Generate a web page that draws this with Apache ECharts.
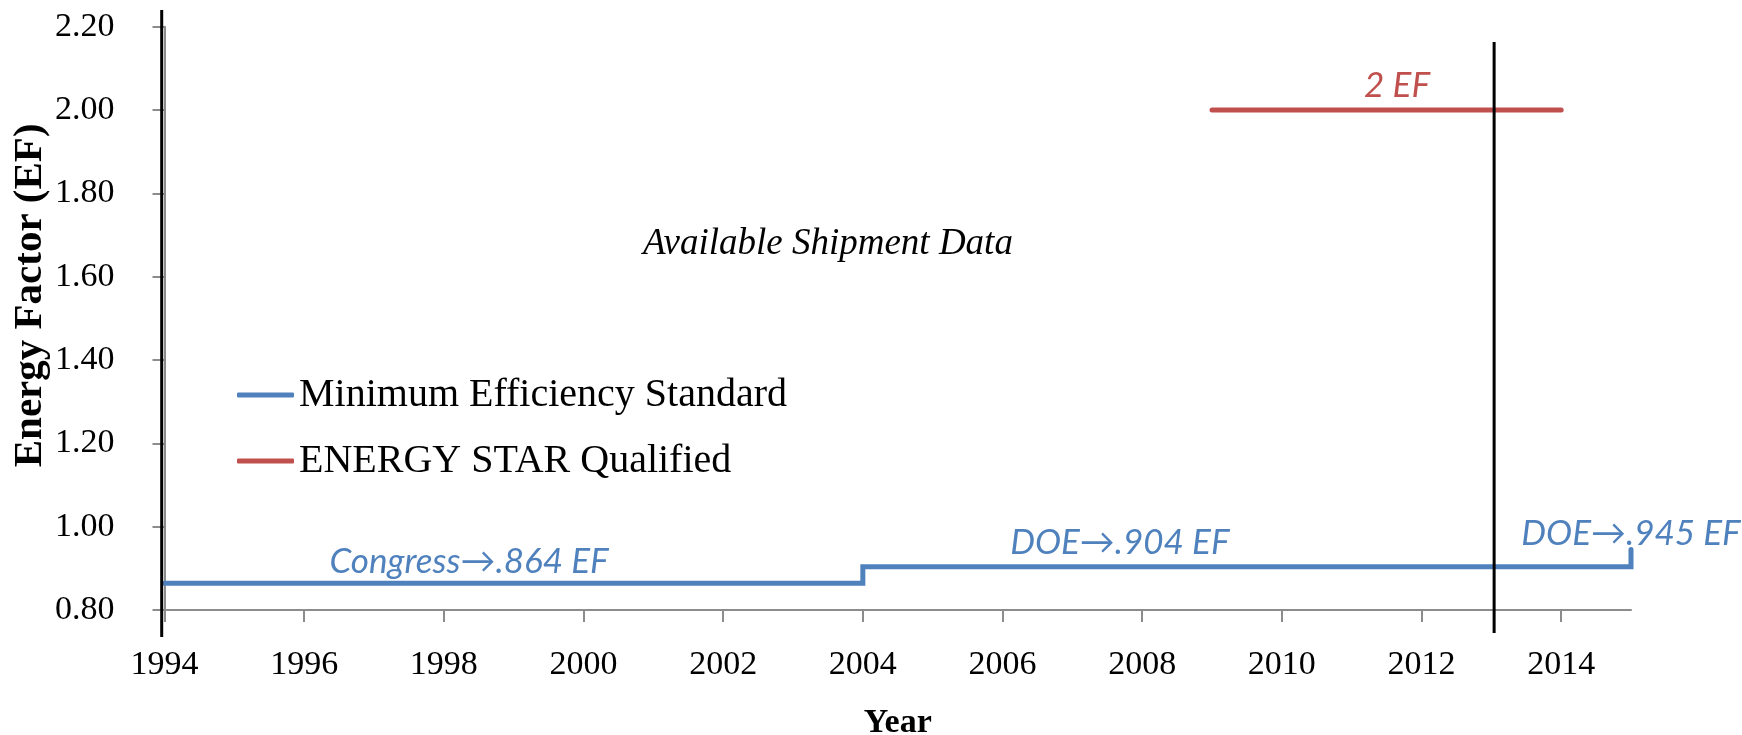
<!DOCTYPE html>
<html>
<head>
<meta charset="utf-8">
<script src="https://cdn.jsdelivr.net/npm/echarts@6/dist/echarts.min.js"></script>
<style>
html,body{margin:0;padding:0;background:#fff;}
#chart{width:1742px;height:735px;}
</style>
</head>
<body>
<div id="chart"></div>
<script>
// ---- data ----
const xTickYears = [1994, 1996, 1998, 2000, 2002, 2004, 2006, 2008, 2010, 2012, 2014];
const yTickValues = [0.8, 1.0, 1.2, 1.4, 1.6, 1.8, 2.0, 2.2];

const minStdYears = [1994, 2004, 2015];
const minStdValues = [0.864, 0.904, 0.945];

const starYears = [2009, 2014];
const starValues = [2.0, 2.0];

// shipment-data window boundaries: [year, top value, bottom value]
const shipmentBounds = [
  [1993.96, 2.24, 0.735],
  [2013.04, 2.163, 0.745]
];

// annotations: text, year, value
const annoTexts = ['Congress\u2192.864 EF', 'DOE\u2192.904 EF', 'DOE\u2192.945 EF', '2 EF', 'Available Shipment Data'];
const annoYears = [1998.36, 2007.68, 2015.0, 2011.65, 2003.5];
const annoValues = [0.915, 0.961, 0.982, 2.058, 1.678];

const BLUE = '#4F81BD';
const RED = '#C0504D';
const GRAY = '#8C8C8C';

const annoStyles = [
  {color: BLUE, fontFamily: 'Lato', fontStyle: 'italic', fontSize: 35},
  {color: BLUE, fontFamily: 'Lato', fontStyle: 'italic', fontSize: 35},
  {color: BLUE, fontFamily: 'Lato', fontStyle: 'italic', fontSize: 35},
  {color: RED, fontFamily: 'Lato', fontStyle: 'italic', fontSize: 35},
  {color: '#000', fontFamily: 'Liberation Serif', fontStyle: 'italic', fontSize: 37}
];

const chart = echarts.init(document.getElementById('chart'), null, {renderer: 'canvas'});

const option = {
  backgroundColor: '#fff',
  animation: false,
  grid: {left: 164.5, right: 111, top: 26.7, bottom: 125, containLabel: false, outerBoundsMode: 'none'},
  legend: {
    orient: 'vertical',
    left: 232,
    top: 368,
    data: ['Minimum Efficiency Standard', 'ENERGY STAR Qualified'],
    icon: 'roundRect',
    itemWidth: 57,
    itemHeight: 5,
    itemGap: 22,
    textStyle: {fontFamily: 'Liberation Serif', fontSize: 40, color: '#000', lineHeight: 44},
    selectedMode: false
  },
  xAxis: {
    type: 'value',
    min: 1994,
    max: 2015,
    interval: 2,
    name: 'Year',
    nameLocation: 'middle',
    nameGap: 96,
    nameTextStyle: {fontFamily: 'Liberation Serif', fontWeight: 'bold', fontSize: 34, color: '#000'},
    axisLine: {show: true, lineStyle: {color: GRAY, width: 2}},
    axisTick: {show: true, length: 12, lineStyle: {color: GRAY, width: 2}, customValues: xTickYears},
    axisLabel: {fontFamily: 'Liberation Serif', fontSize: 34, color: '#000', margin: 38, customValues: xTickYears,
      formatter: v => String(v)},
    splitLine: {show: false}
  },
  yAxis: {
    type: 'value',
    min: 0.8,
    max: 2.2,
    interval: 0.2,
    name: 'Energy Factor (EF)',
    nameLocation: 'middle',
    nameGap: 114,
    nameMoveOverlap: false,
    nameRotate: 90,
    nameTextStyle: {fontFamily: 'Liberation Serif', fontWeight: 'bold', fontSize: 41, color: '#000', padding: [0, 0, 0, 46]},
    axisLine: {show: true, lineStyle: {color: GRAY, width: 2}},
    axisTick: {show: true, length: 12, lineStyle: {color: GRAY, width: 2}},
    axisLabel: {fontFamily: 'Liberation Serif', fontSize: 34, color: '#000', margin: 50,
      formatter: v => v.toFixed(2)},
    splitLine: {show: false}
  },
  series: [
    {
      name: 'Minimum Efficiency Standard',
      type: 'line',
      step: 'end',
      symbol: 'none',
      data: minStdYears.map((y, i) => [y, minStdValues[i]]),
      lineStyle: {color: BLUE, width: 5, cap: 'round', join: 'miter'},
      itemStyle: {color: BLUE},
      clip: false,
      z: 3
    },
    {
      name: 'ENERGY STAR Qualified',
      type: 'line',
      symbol: 'none',
      data: starYears.map((y, i) => [y, starValues[i]]),
      lineStyle: {color: RED, width: 5, cap: 'round'},
      itemStyle: {color: RED},
      z: 3
    },
    {
      name: 'bounds',
      type: 'custom',
      clip: false,
      z: 5,
      silent: true,
      data: shipmentBounds,
      renderItem: function (params, api) {
        const p1 = api.coord([api.value(0), api.value(1)]);
        const p2 = api.coord([api.value(0), api.value(2)]);
        return {
          type: 'line',
          shape: {x1: p1[0], y1: p1[1], x2: p2[0], y2: p2[1]},
          style: {stroke: '#000', lineWidth: 3}
        };
      }
    },
    {
      name: 'annotations',
      type: 'scatter',
      symbolSize: 0,
      silent: true,
      z: 6,
      itemStyle: {opacity: 1},
      data: annoTexts.map((t, i) => ({
        value: [annoYears[i], annoValues[i]],
        label: Object.assign({show: true, position: 'inside', formatter: t}, annoStyles[i])
      }))
    }
  ]
};
chart.setOption(option);
</script>
</body>
</html>
